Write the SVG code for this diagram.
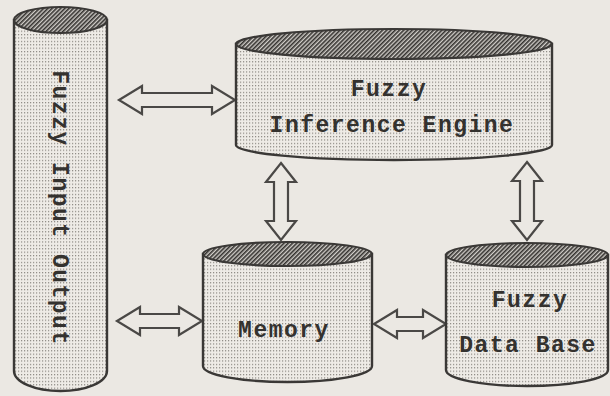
<svg xmlns="http://www.w3.org/2000/svg" width="610" height="396" viewBox="0 0 610 396">
<defs>
  <pattern id="dots" width="3" height="3.4" patternUnits="userSpaceOnUse">
    <rect width="3" height="3.4" fill="#eeebe6"/>
    <rect x="0" y="0" width="1.2" height="1.2" fill="#8c8882"/>
  </pattern>
  <pattern id="hatch" width="3" height="3" patternUnits="userSpaceOnUse" patternTransform="rotate(45)">
    <rect width="3" height="3" fill="#d0cdc8"/>
    <rect x="0" y="0" width="1.6" height="3" fill="#34322f"/>
  </pattern>
  <style>
    .body { fill: url(#dots); stroke: #3a3836; stroke-width: 2.4; }
    .top { fill: url(#hatch); stroke: #3a3836; stroke-width: 2.2; }
    .arrow { fill: #ebe8e3; stroke: #4a4846; stroke-width: 2.2; stroke-linejoin: miter; }
    .lbl { font-family: "Liberation Mono", "DejaVu Sans Mono", monospace; font-size: 23px; font-weight: bold; fill: #34322f; letter-spacing: 1.5px; text-anchor: middle; }
  </style>
</defs>
<rect width="610" height="396" fill="#ebe8e3"/>

<g id="connectors">
  <polygon class="arrow" points="119,100 142,86 142,93 212,93 212,86 235,100 212,114 212,107 142,107 142,114"/>
  <polygon class="arrow" points="117,321 140,307 140,314 179,314 179,307 202,321 179,335 179,328 140,328 140,335"/>
  <polygon class="arrow" points="374,324 397,310 397,317 423,317 423,310 446,324 423,338 423,331 397,331 397,338"/>
  <polygon class="arrow" points="281,163 296,182 288,182 288,221 296,221 281,240 266,221 274,221 274,182 266,182"/>
  <polygon class="arrow" points="527,162 542,181 534,181 534,221 542,221 527,240 512,221 520,221 520,181 512,181"/>
</g>

<g id="io">
  <path class="body" d="M14,20 L14,371 A46.5,20 0 0 0 107,371 L107,20 Z"/>
  <ellipse class="top" cx="60.5" cy="20" rx="46.5" ry="13"/>
  <text class="lbl" transform="translate(53,208) rotate(90)">Fuzzy Input Output</text>
</g>

<g id="engine">
  <path class="body" d="M236,44 L236,145 A158,15 0 0 0 552,145 L552,44 Z"/>
  <ellipse class="top" cx="394" cy="44" rx="158" ry="15"/>
  <text class="lbl" x="389" y="96">Fuzzy</text>
  <text class="lbl" x="392" y="132">Inference Engine</text>
</g>

<g id="memory">
  <path class="body" d="M203,254 L203,366 A84.5,16 0 0 0 372,366 L372,254 Z"/>
  <ellipse class="top" cx="287.5" cy="254" rx="84.5" ry="12"/>
  <text class="lbl" x="284" y="337">Memory</text>
</g>

<g id="database">
  <path class="body" d="M446,255 L446,370 A81,16 0 0 0 608,370 L608,255 Z"/>
  <ellipse class="top" cx="527" cy="255" rx="81" ry="12"/>
  <text class="lbl" x="530" y="307">Fuzzy</text>
  <text class="lbl" x="528" y="352">Data Base</text>
</g>
</svg>
